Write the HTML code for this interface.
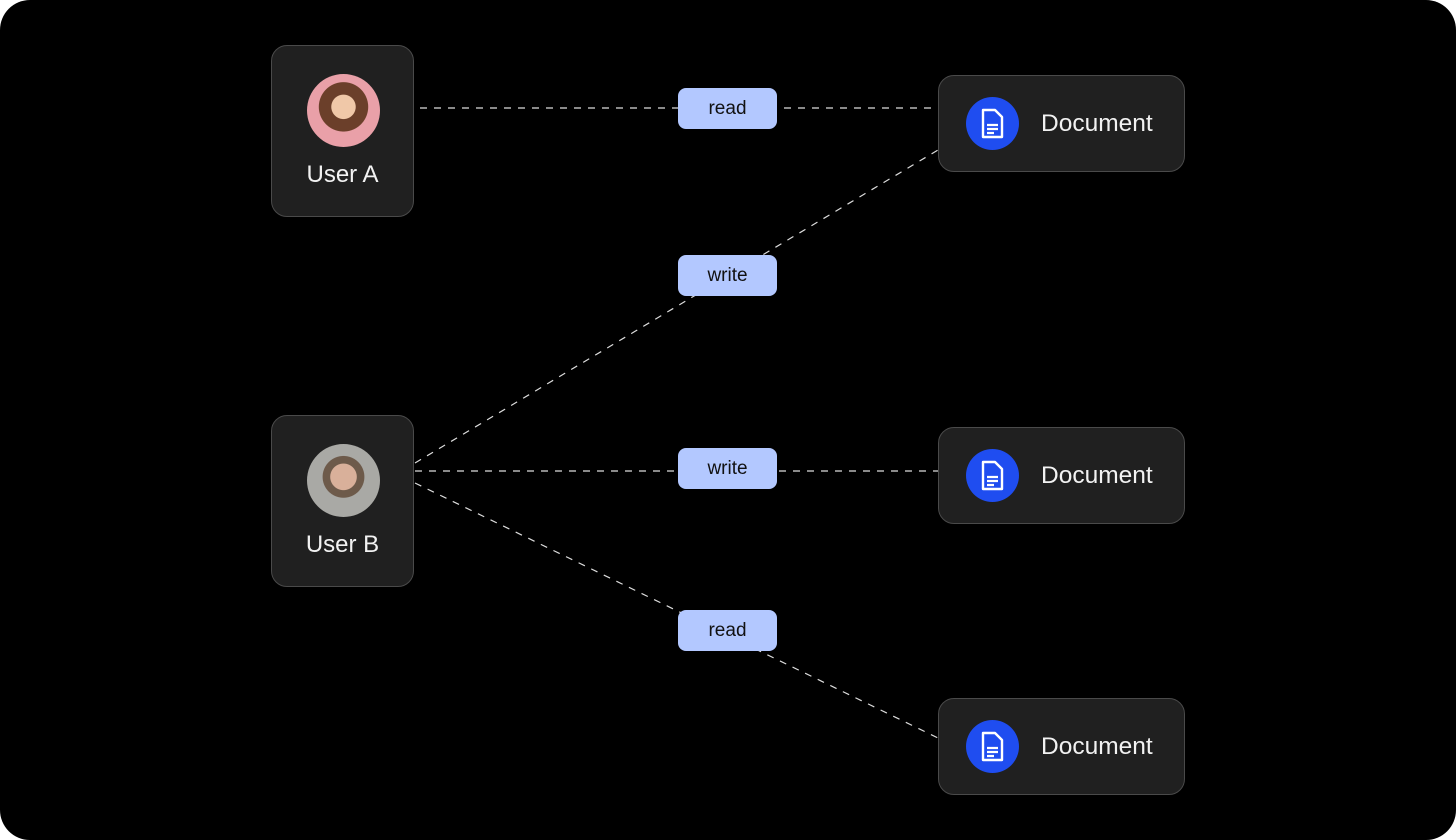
<!DOCTYPE html>
<html><head><style>
html,body{margin:0;padding:0;background:#fff;}
.wrap{position:relative;width:1456px;height:840px;background:#000;border-radius:30px;overflow:hidden;font-family:"Liberation Sans",sans-serif;}
.user{position:absolute;left:271px;width:143px;height:172px;background:#202020;border:1.5px solid #4a4a4a;border-radius:16px;box-sizing:border-box;}
.user .av{position:absolute;left:35px;top:28px;width:73px;height:73px;border-radius:50%;}
.user .t{position:absolute;left:0;right:0;top:115px;text-align:center;color:#f2f2f2;font-size:24px;}
.doc{position:absolute;left:938px;width:247px;height:97px;background:#202020;border:1.5px solid #4a4a4a;border-radius:16px;box-sizing:border-box;}
.doc .ic{position:absolute;left:27px;top:21px;width:53px;height:53px;border-radius:50%;background:#1f4df0;}
.doc .t{position:absolute;left:102px;top:34px;color:#f2f2f2;font-size:24.5px;}
.lab{position:absolute;left:678px;width:99px;height:41px;background:#b3c8ff;border-radius:8px;text-align:center;line-height:41px;font-size:19px;color:#111;}
svg{position:absolute;left:0;top:0;}
</style></head><body><div class="wrap">
<svg width="1456" height="840"><g stroke="#ddd" stroke-width="1.2" stroke-dasharray="7,7" fill="none">
<line x1="420" y1="108" x2="938" y2="108"/>
<line x1="415" y1="463" x2="938" y2="150"/>
<line x1="415" y1="471" x2="938" y2="471"/>
<line x1="415" y1="483" x2="938" y2="738"/>
</g></svg>
<div class="user" style="top:45px"><div class="av" style="background:radial-gradient(circle at 50% 45%,#f0c8a8 0 22%,#6b3f2a 23% 45%,#e9a0a8 46%)"></div><div class="t">User A</div></div>
<div class="user" style="top:415px"><div class="av" style="background:radial-gradient(circle at 50% 45%,#d9b09a 0 24%,#6d5a4a 25% 38%,#a9a9a5 39%)"></div><div class="t">User B</div></div>
<div class="lab" style="top:88px">read</div>
<div class="lab" style="top:255px">write</div>
<div class="lab" style="top:448px">write</div>
<div class="lab" style="top:610px">read</div>
<div class="doc" style="top:75px"><div class="ic"><svg width="53" height="53" viewBox="0 0 53 53"><path d="M17 13h12l7 7v20h-19z" fill="none" stroke="#fff" stroke-width="2.4" stroke-linejoin="round"/><path d="M21 28h11M21 32h11M21 36h7" stroke="#fff" stroke-width="2.2"/></svg></div><div class="t">Document</div></div>
<div class="doc" style="top:427px"><div class="ic"><svg width="53" height="53" viewBox="0 0 53 53"><path d="M17 13h12l7 7v20h-19z" fill="none" stroke="#fff" stroke-width="2.4" stroke-linejoin="round"/><path d="M21 28h11M21 32h11M21 36h7" stroke="#fff" stroke-width="2.2"/></svg></div><div class="t">Document</div></div>
<div class="doc" style="top:698px"><div class="ic"><svg width="53" height="53" viewBox="0 0 53 53"><path d="M17 13h12l7 7v20h-19z" fill="none" stroke="#fff" stroke-width="2.4" stroke-linejoin="round"/><path d="M21 28h11M21 32h11M21 36h7" stroke="#fff" stroke-width="2.2"/></svg></div><div class="t">Document</div></div>
</div></body></html>
